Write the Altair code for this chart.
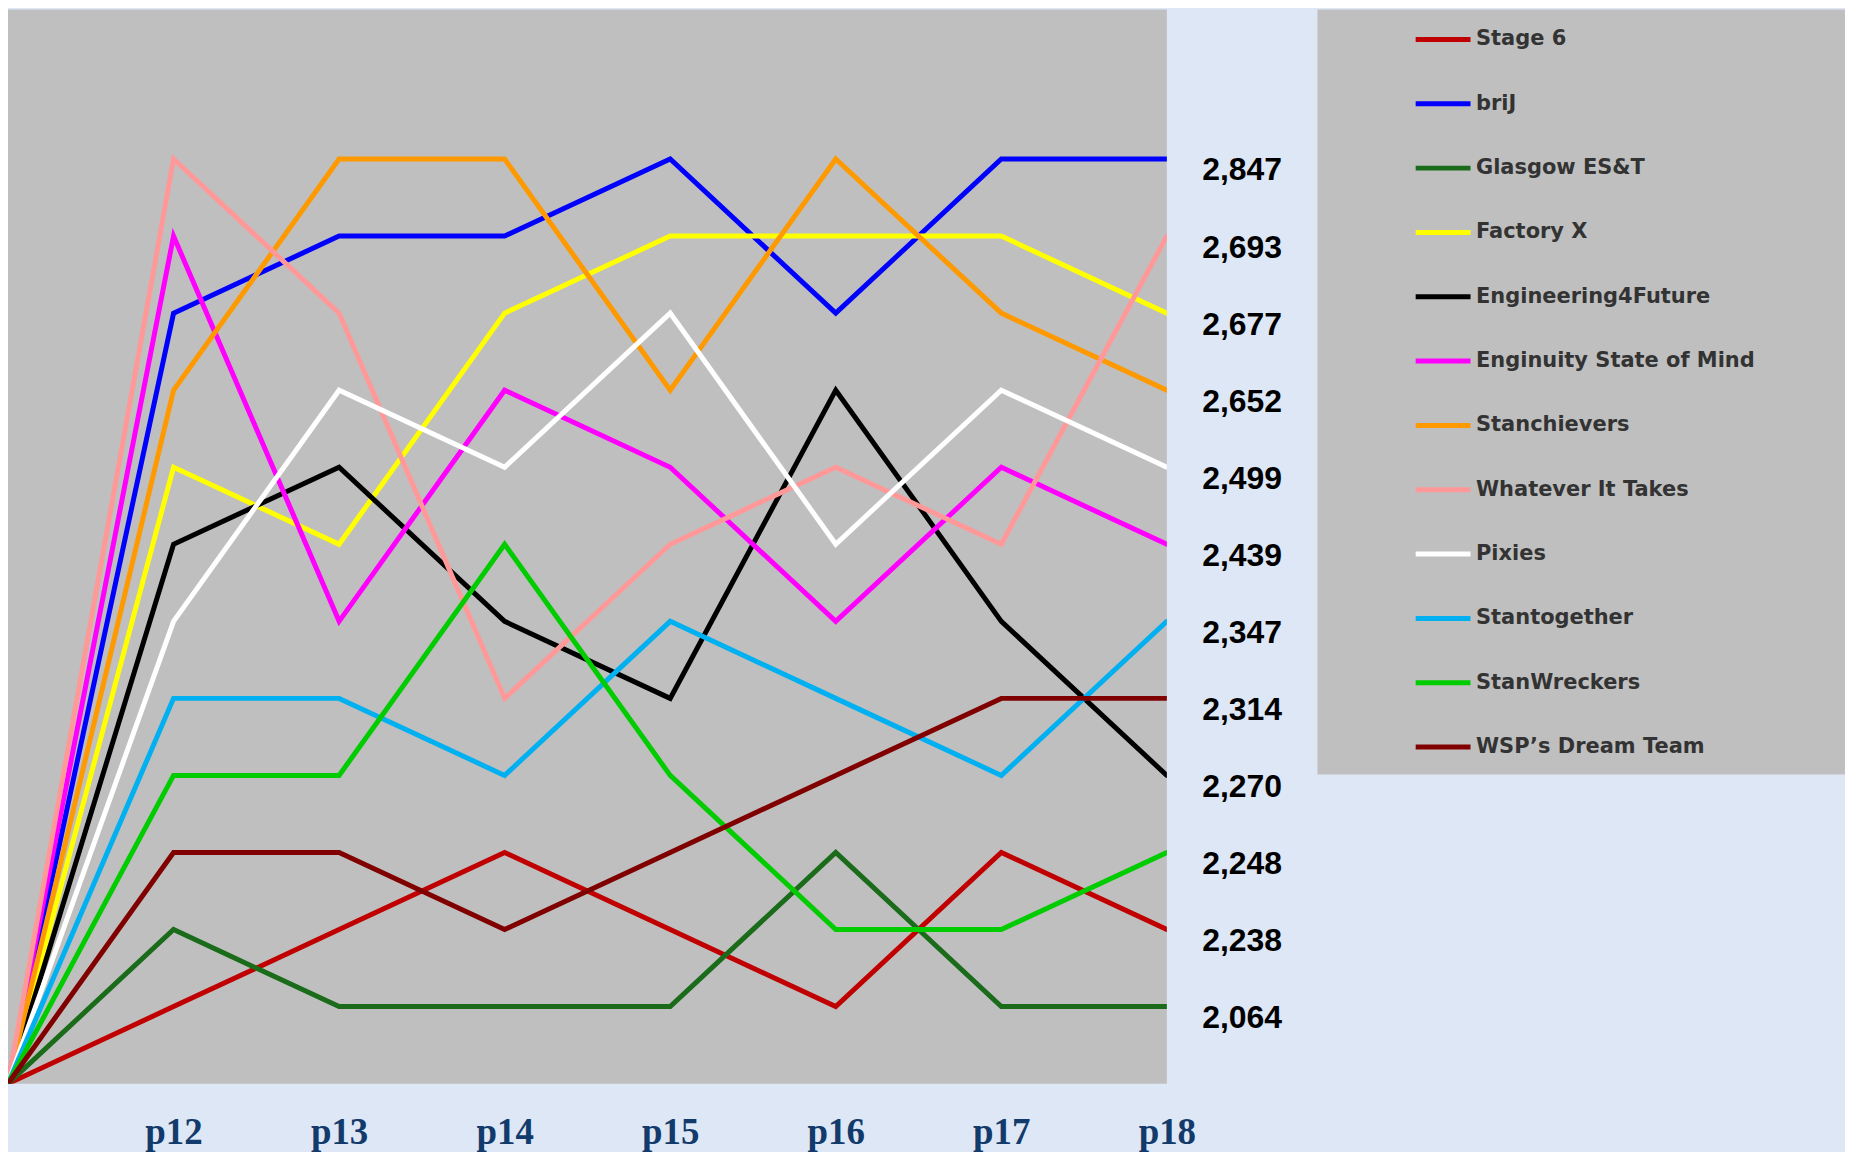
import altair as alt
import pandas as pd

periods = ["p12", "p13", "p14", "p15", "p16", "p17", "p18"]
teams = ["Stage 6", "briJ", "Glasgow ES&T", "Factory X", "Engineering4Future",
         "Enginuity State of Mind", "Stanchievers", "Whatever It Takes", "Pixies",
         "Stantogether", "StanWreckers", "WSP\u2019s Dream Team"]
colors = ["#c00000", "#0000ff", "#1a6b1a", "#ffff00", "#000000", "#ff00ff",
          "#ff9900", "#ff9999", "#ffffff", "#00b0f0", "#00cc00", "#800000"]

# league position (1 = top) of each team in each period p12..p18
rank_stage6 = [12, 11, 10, 11, 12, 10, 11]
rank_brij = [3, 2, 2, 1, 3, 1, 1]
rank_glasgow = [11, 12, 12, 12, 10, 12, 12]
rank_factoryx = [5, 6, 3, 2, 2, 2, 3]
rank_e4f = [6, 5, 7, 8, 4, 7, 9]
rank_enginuity = [2, 7, 4, 5, 7, 5, 6]
rank_stanchievers = [4, 1, 1, 4, 1, 3, 4]
rank_whatever = [1, 3, 8, 6, 5, 6, 2]
rank_pixies = [7, 4, 5, 3, 6, 4, 5]
rank_stantogether = [8, 8, 9, 7, 8, 9, 7]
rank_stanwreckers = [9, 9, 6, 9, 11, 11, 10]
rank_wsp = [10, 10, 11, 10, 9, 8, 8]
start_rank = 13  # all lines start from the common baseline

# scores shown on the right, by final position
final_scores = [2847, 2693, 2677, 2652, 2499, 2439, 2347, 2314, 2270, 2248, 2238, 2064]

all_ranks = [rank_stage6, rank_brij, rank_glasgow, rank_factoryx, rank_e4f,
             rank_enginuity, rank_stanchievers, rank_whatever, rank_pixies,
             rank_stantogether, rank_stanwreckers, rank_wsp]

rows = []
for t, ranks in zip(teams, all_ranks):
    rows.append({"team": t, "step": 0, "rank": start_rank})
    for i, r in enumerate(ranks):
        rows.append({"team": t, "step": i + 1, "rank": r})
df = pd.DataFrame(rows)

period_expr = "[" + ",".join("'%s'" % p for p in periods) + "][datum.value - 1]"
score_expr = "format([" + ",".join(str(s) for s in final_scores) + "][datum.value - 1], ',')"

lines = alt.Chart(df).mark_line(strokeWidth=5, strokeCap="round", clip=True).encode(
    x=alt.X("step:Q", scale=alt.Scale(domain=[0, 7], nice=False, zero=False),
            axis=alt.Axis(values=list(range(1, 8)), labelExpr=period_expr, title=None,
                          grid=False, ticks=False, domain=False,
                          labelFont="Liberation Serif", labelFontWeight="bold",
                          labelFontSize=37, labelColor="#123a6b", labelPadding=31,
                          labelFlush=False)),
    y=alt.Y("rank:Q", scale=alt.Scale(domain=[-0.94, 13], reverse=True, nice=False, zero=False),
            axis=alt.Axis(orient="right", values=list(range(1, 13)), labelExpr=score_expr,
                          title=None, grid=False, ticks=False, domain=False,
                          labelFont="Liberation Sans", labelFontWeight="bold",
                          labelFontSize=32, labelColor="#000000", labelPadding=35,
                          labelOffset=11, labelFlush=False)),
    color=alt.Color("team:N", scale=alt.Scale(domain=teams, range=colors),
                    legend=alt.Legend(title=None, orient="none", legendX=1409, legendY=0,
                                      symbolType="stroke", symbolStrokeWidth=5,
                                      symbolSize=3025, labelFont="DejaVu Sans",
                                      labelFontWeight="bold", labelFontSize=21,
                                      labelColor="#333333", labelOffset=3,
                                      rowPadding=24.5, padding=0, labelLimit=400)),
    order=alt.Order("step:Q"),
)

box = alt.Chart(alt.Data(values=[{"k": 1}])).mark_rect(color="#bfbfbf").encode(
    x=alt.value(1313), x2=alt.value(1842), y=alt.value(0), y2=alt.value(767)
)

chart = alt.layer(box, lines).properties(
    width=1162, height=1077, padding=0
).configure(background="#dee7f5").configure_view(fill="#bfbfbf", strokeWidth=0)

chart.save("out.html", embed_options={"renderer": "svg", "actions": False})
